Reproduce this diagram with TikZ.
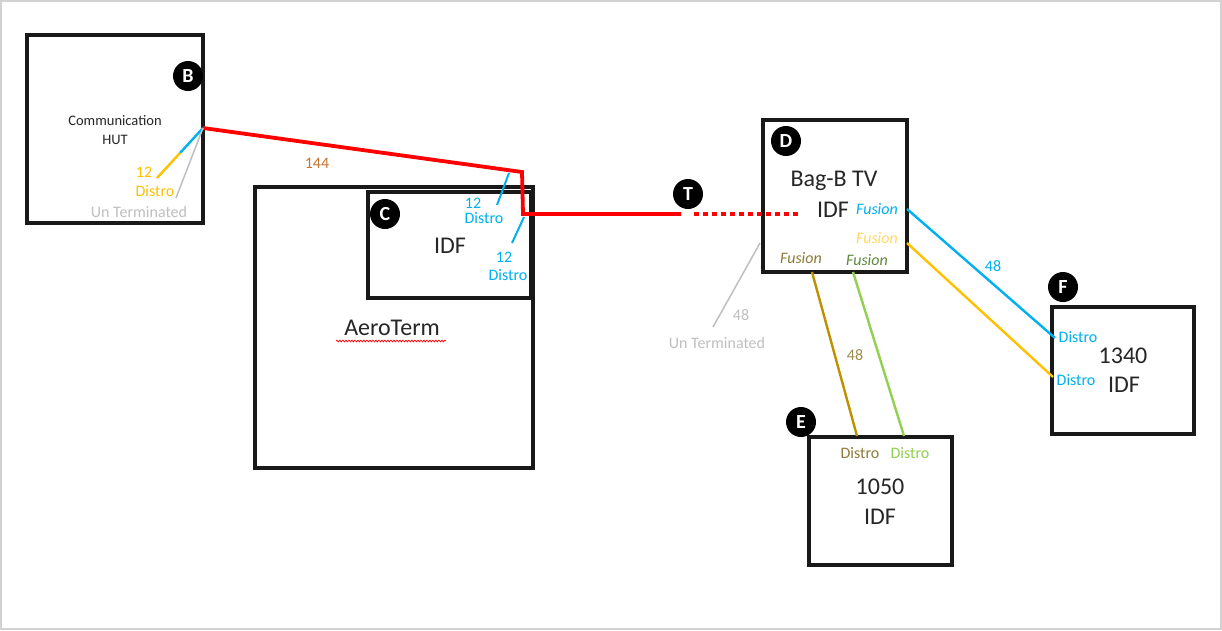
\documentclass[tikz,border=0pt]{standalone}
\usepackage{fontspec}
\setmainfont{Carlito}
\usetikzlibrary{decorations.pathmorphing}
\definecolor{cred}{HTML}{FF0000}
\definecolor{cblue}{HTML}{00B0F0}
\definecolor{cyel}{HTML}{FFC000}
\definecolor{cyellt}{HTML}{FFD966}
\definecolor{cgray}{HTML}{BFBFBF}
\definecolor{cbrown}{HTML}{BF9000}
\definecolor{cbrowntxt}{HTML}{8C7A3A}
\definecolor{cbrowntxt2}{HTML}{A08C50}
\definecolor{cgreen}{HTML}{92D050}
\definecolor{cgreentxt}{HTML}{5E8A3C}
\definecolor{corange}{HTML}{C87533}
\definecolor{ctext}{HTML}{262626}
\begin{document}
\begin{tikzpicture}[x=1pt,y=-1pt,
  box/.style={draw=black!90,line width=3.4pt,rectangle,inner sep=0pt},
  badge/.style={circle,fill=black,minimum size=30pt,inner sep=0pt,text=white,font=\fontsize{20}{21}\selectfont\bfseries},
  small/.style={inner sep=0pt,align=center,font=\fontsize{16}{17}\selectfont},
  tiny/.style={inner sep=0pt,align=center,font=\fontsize{14.5}{19}\selectfont,text=ctext},
  big/.style={inner sep=0pt,align=center,font=\fontsize{24}{29}\selectfont,text=ctext},
  fus/.style={inner sep=0pt,font=\fontsize{16}{17}\selectfont\itshape},
  redline/.style={draw=cred,line width=3.8pt,line join=miter},
  cable/.style={line width=2.4pt},
  thin/.style={draw=cgray,line width=1.5pt}]
\useasboundingbox (0,0) rectangle (1222,630);
\fill[white] (0,0) rectangle (1222,630);
\draw[gray!35,line width=1.5pt] (1,1) rectangle (1221,629);

% boxes
\node[box,minimum width=176pt,minimum height=188pt] (hut) at (115,129) {};
\node[box,minimum width=278pt,minimum height=281pt] (aero) at (394,327.5) {};
\node[box,minimum width=163pt,minimum height=106pt] (idfc) at (449.5,245) {};
\node[box,minimum width=144pt,minimum height=152pt] (bag) at (835,196) {};
\node[box,minimum width=143pt,minimum height=128pt] (e1050) at (880.5,501) {};
\node[box,minimum width=142pt,minimum height=127pt] (f1340) at (1123,370.5) {};

% badges
\node[badge] (bB) at (188,76) {B};
\node[badge] (bC) at (385,214) {C};
\node[badge] (bT) at (688,194) {T};
\node[badge] (bD) at (786,141) {D};
\node[badge] (bE) at (801,422) {E};
\node[badge] (bF) at (1063,287) {F};

% connector coordinates
\coordinate (hutport) at (203,128);
\coordinate (bend1) at (522,172);
\coordinate (bend2) at (523,214);
\coordinate (redend) at (681,214);
\coordinate (dotstart) at (694,214);
\coordinate (dotend) at (801,214);
\coordinate (hutmid) at (180,153);
\coordinate (hutyel) at (157,178);
\coordinate (hutgray) at (176,198);
\coordinate (c1a) at (509,173);
\coordinate (c1b) at (497,205);
\coordinate (c2a) at (524,217);
\coordinate (c2b) at (512,243);
\coordinate (dgray) at (760,243);
\coordinate (ugray) at (713,327);
\coordinate (dblue) at (907,209);
\coordinate (fblue) at (1055,338);
\coordinate (dyel) at (907,243);
\coordinate (fyel) at (1053,377);
\coordinate (dbrown) at (812,272);
\coordinate (ebrown) at (857,436);
\coordinate (dgreen) at (853,272);
\coordinate (egreen) at (904,436);

% red trunk
\draw[redline] (hutport) -- (bend1) -- (bend2) -- (redend);
\draw[draw=cred,line width=3.8pt,dash pattern=on 4.5pt off 4.5pt] (dotstart) -- (dotend);

% HUT fan-out
\draw[cable,cblue] (hutport) -- (hutmid);
\draw[cable,cyel] (hutmid) -- (hutyel);
\draw[thin] (hutport) -- (hutgray);

% C distro
\draw[cable,cblue,line width=2pt] (c1a) -- (c1b);
\draw[cable,cblue,line width=2pt] (c2a) -- (c2b);

% D cables
\draw[thin] (dgray) -- (ugray);
\draw[cable,cblue] (dblue) -- (fblue);
\draw[cable,cyel] (dyel) -- (fyel);
\draw[cable,cbrown] (dbrown) -- (ebrown);
\draw[cable,cgreen] (dgreen) -- (egreen);

% texts
\node[tiny] (thut) at (115,130) {Communication\\HUT};
\node[small,text=cyel] (t12y) at (144,172) {12};
\node[small,text=cyel] (tdy) at (155,191) {Distro};
\node[small,text=cgray] (tuthut) at (139,212) {Un Terminated};
\node[small,text=corange] (t144) at (317,163) {144};

\node[small,text=cblue] (tc12a) at (473,203) {12};
\node[small,text=cblue] (tcda) at (484,218) {Distro};
\node[small,text=cblue] (tc12b) at (504,257) {12};
\node[small,text=cblue] (tcdb) at (508,275) {Distro};
\node[big] (tidfc) at (450,246) {IDF};
\node[big] (taero) at (392,328) {AeroTerm};
\draw[cred,line width=0.7pt,decorate,decoration={snake,amplitude=0.9pt,segment length=3pt}] (336,341) -- (446,341);

\node[big] (tbag) at (834,181) {Bag-B TV};
\node[big] (tbagidf) at (833,210) {IDF};
\node[fus,text=cblue] (tfb) at (877,209) {Fusion};
\node[fus,text=cyellt] (tfy) at (877,238) {Fusion};
\node[fus,text=cbrowntxt] (tfbr) at (801,258) {Fusion};
\node[fus,text=cgreentxt] (tfg) at (867,260) {Fusion};

\node[small,text=cgray] (t48g) at (741,315) {48};
\node[small,text=cgray] (tutd) at (717,343) {Un Terminated};
\node[small,text=cblue] (t48b) at (993,266) {48};
\node[small,text=cbrowntxt2] (t48br) at (855,355) {48};

\node[small,text=cbrowntxt] (tedb) at (860,453) {Distro};
\node[small,text=cgreen] (tedg) at (910,453) {Distro};
\node[big] (t1050) at (880,487) {1050};
\node[big] (t1050idf) at (880,517) {IDF};

\node[small,text=cblue] (tfd1) at (1078,337) {Distro};
\node[small,text=cblue] (tfd2) at (1076,380) {Distro};
\node[big] (t1340) at (1123,356) {1340};
\node[big] (t1340idf) at (1124,385) {IDF};
\end{tikzpicture}
\end{document}
